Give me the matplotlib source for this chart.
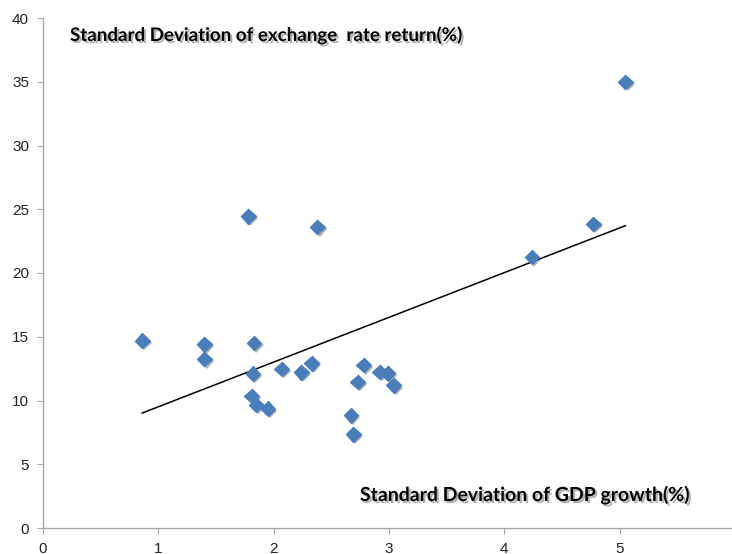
import matplotlib.pyplot as plt
import matplotlib.patheffects as pe
import numpy as np

# std dev of GDP growth (%) vs std dev of exchange rate return (%)
gdp_sd = [0.86, 1.40, 1.40, 1.78, 1.83, 1.82, 1.81, 1.85, 1.95, 2.07, 2.24, 2.33,
          2.38, 2.67, 2.69, 2.73, 2.78, 2.92, 2.99, 3.04, 4.24, 4.77, 5.05]
fx_sd = [14.7, 14.4, 13.25, 24.45, 14.5, 12.1, 10.35, 9.65, 9.35, 12.47, 12.22, 12.92,
         23.6, 8.85, 7.35, 11.45, 12.78, 12.24, 12.14, 11.18, 21.25, 23.84, 34.98]

x_ticks = [0, 1, 2, 3, 4, 5, 6]
y_ticks = [0, 5, 10, 15, 20, 25, 30, 35, 40]

fig = plt.figure(figsize=(7.32, 5.54), dpi=100)
ax = fig.add_axes([43 / 732, 26 / 554, 692 / 732, 510 / 554])

shadow = [pe.SimplePatchShadow(offset=(1.5, -1.5), alpha=0.35), pe.Normal()]
ax.plot(gdp_sd, fx_sd, linestyle='none', marker='D', markersize=7.5,
        color='#4a7ebb', markeredgecolor='#4a7ebb', zorder=3,
        path_effects=shadow)

# linear trendline from min to max x
k, b = np.polyfit(gdp_sd, fx_sd, 1)
xs = np.array([min(gdp_sd), max(gdp_sd)])
ax.plot(xs, k * xs + b, color='black', linewidth=1.1, zorder=2)

ax.set_xlim(0, 6)
ax.set_ylim(0, 40)
ax.set_xticks(x_ticks)
ax.set_yticks(y_ticks)
for s in ['top', 'right']:
    ax.spines[s].set_visible(False)
for s in ['left', 'bottom']:
    ax.spines[s].set_color('#a6a6a6')
    ax.spines[s].set_linewidth(1)
ax.tick_params(direction='out', length=4, color='#a6a6a6', labelsize=11,
               labelcolor='#222222', pad=6)
for lab in ax.get_xticklabels() + ax.get_yticklabels():
    lab.set_fontfamily('Liberation Sans')

txt_shadow = [pe.withSimplePatchShadow(offset=(1.5, -1.5), alpha=0.3)]
fig.text(70 / 732, 1 - 35 / 554, 'Standard Deviation of exchange  rate return(%)',
         fontsize=13.5, fontweight='bold', family='Lato', va='center', ha='left',
         path_effects=txt_shadow)
fig.text(360 / 732, 1 - 495 / 554, 'Standard Deviation of GDP growth(%)',
         fontsize=14, fontweight='bold', family='Lato', va='center', ha='left',
         path_effects=txt_shadow)

fig.savefig('out.png', dpi=100)
